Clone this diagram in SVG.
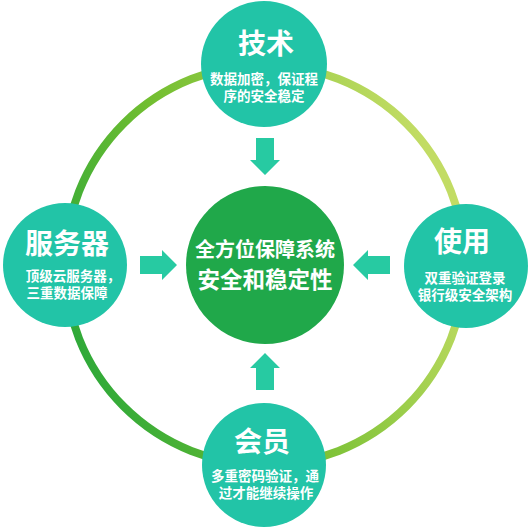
<svg xmlns="http://www.w3.org/2000/svg" width="530" height="530" viewBox="0 0 530 530">
<style>
.node{fill:#22c4a7}
.t{font-family:"Noto Sans CJK SC","Noto Sans",sans-serif;font-weight:bold;fill:#fff;text-anchor:middle}
.h{font-size:28px}
.s{font-size:13.5px}
.arrow{fill:#27caa2}
</style>
<defs>
<linearGradient id="ring" gradientUnits="userSpaceOnUse" x1="65" y1="420" x2="470" y2="260">
<stop offset="0" stop-color="#1fa43b"/>
<stop offset="0.45" stop-color="#72be30"/>
<stop offset="1" stop-color="#c2dc64"/>
</linearGradient>
</defs>
<rect width="530" height="530" fill="#fff"/>
<g id="connectors">
<circle cx="265" cy="265" r="200" fill="none" stroke="url(#ring)" stroke-width="8"/>
<path class="arrow" d="M256,138 H274 V160 H280 L265,175 L250,160 H256 Z"/>
<path class="arrow" d="M140,256 H162 V250 L177,265 L162,280 V274 H140 Z"/>
<path class="arrow" d="M390,256 H368 V250 L353,265 L368,280 V274 H390 Z"/>
<path class="arrow" d="M256,390 H274 V368 H280 L265,353 L250,368 H256 Z"/>
</g>
<g id="center">
<circle cx="265" cy="265" r="79" fill="#20a84a"/>
<text class="t" x="265" y="257" font-size="20">全方位保障系统</text>
<text class="t" x="265" y="288" font-size="22.5">安全和稳定性</text>
</g>
<g id="node-top">
<circle class="node" cx="264" cy="64" r="63"/>
<text class="t h" x="266" y="54">技术</text>
<text class="t s" x="264" y="84">数据加密，保证程</text>
<text class="t s" x="264" y="101">序的安全稳定</text>
</g>
<g id="node-left">
<circle class="node" cx="65" cy="265" r="62"/>
<text class="t h" x="67" y="254">服务器</text>
<text class="t s" x="73" y="281">顶级云服务器，</text>
<text class="t s" x="67" y="298">三重数据保障</text>
</g>
<g id="node-right">
<circle class="node" cx="466" cy="266" r="62"/>
<text class="t h" x="462" y="252">使用</text>
<text class="t s" x="465" y="283">双重验证登录</text>
<text class="t s" x="465" y="300">银行级安全架构</text>
</g>
<g id="node-bottom">
<circle class="node" cx="264" cy="465" r="62"/>
<text class="t h" x="262" y="452">会员</text>
<text class="t s" x="265" y="481">多重密码验证，通</text>
<text class="t s" x="266" y="498">过才能继续操作</text>
</g>
</svg>
